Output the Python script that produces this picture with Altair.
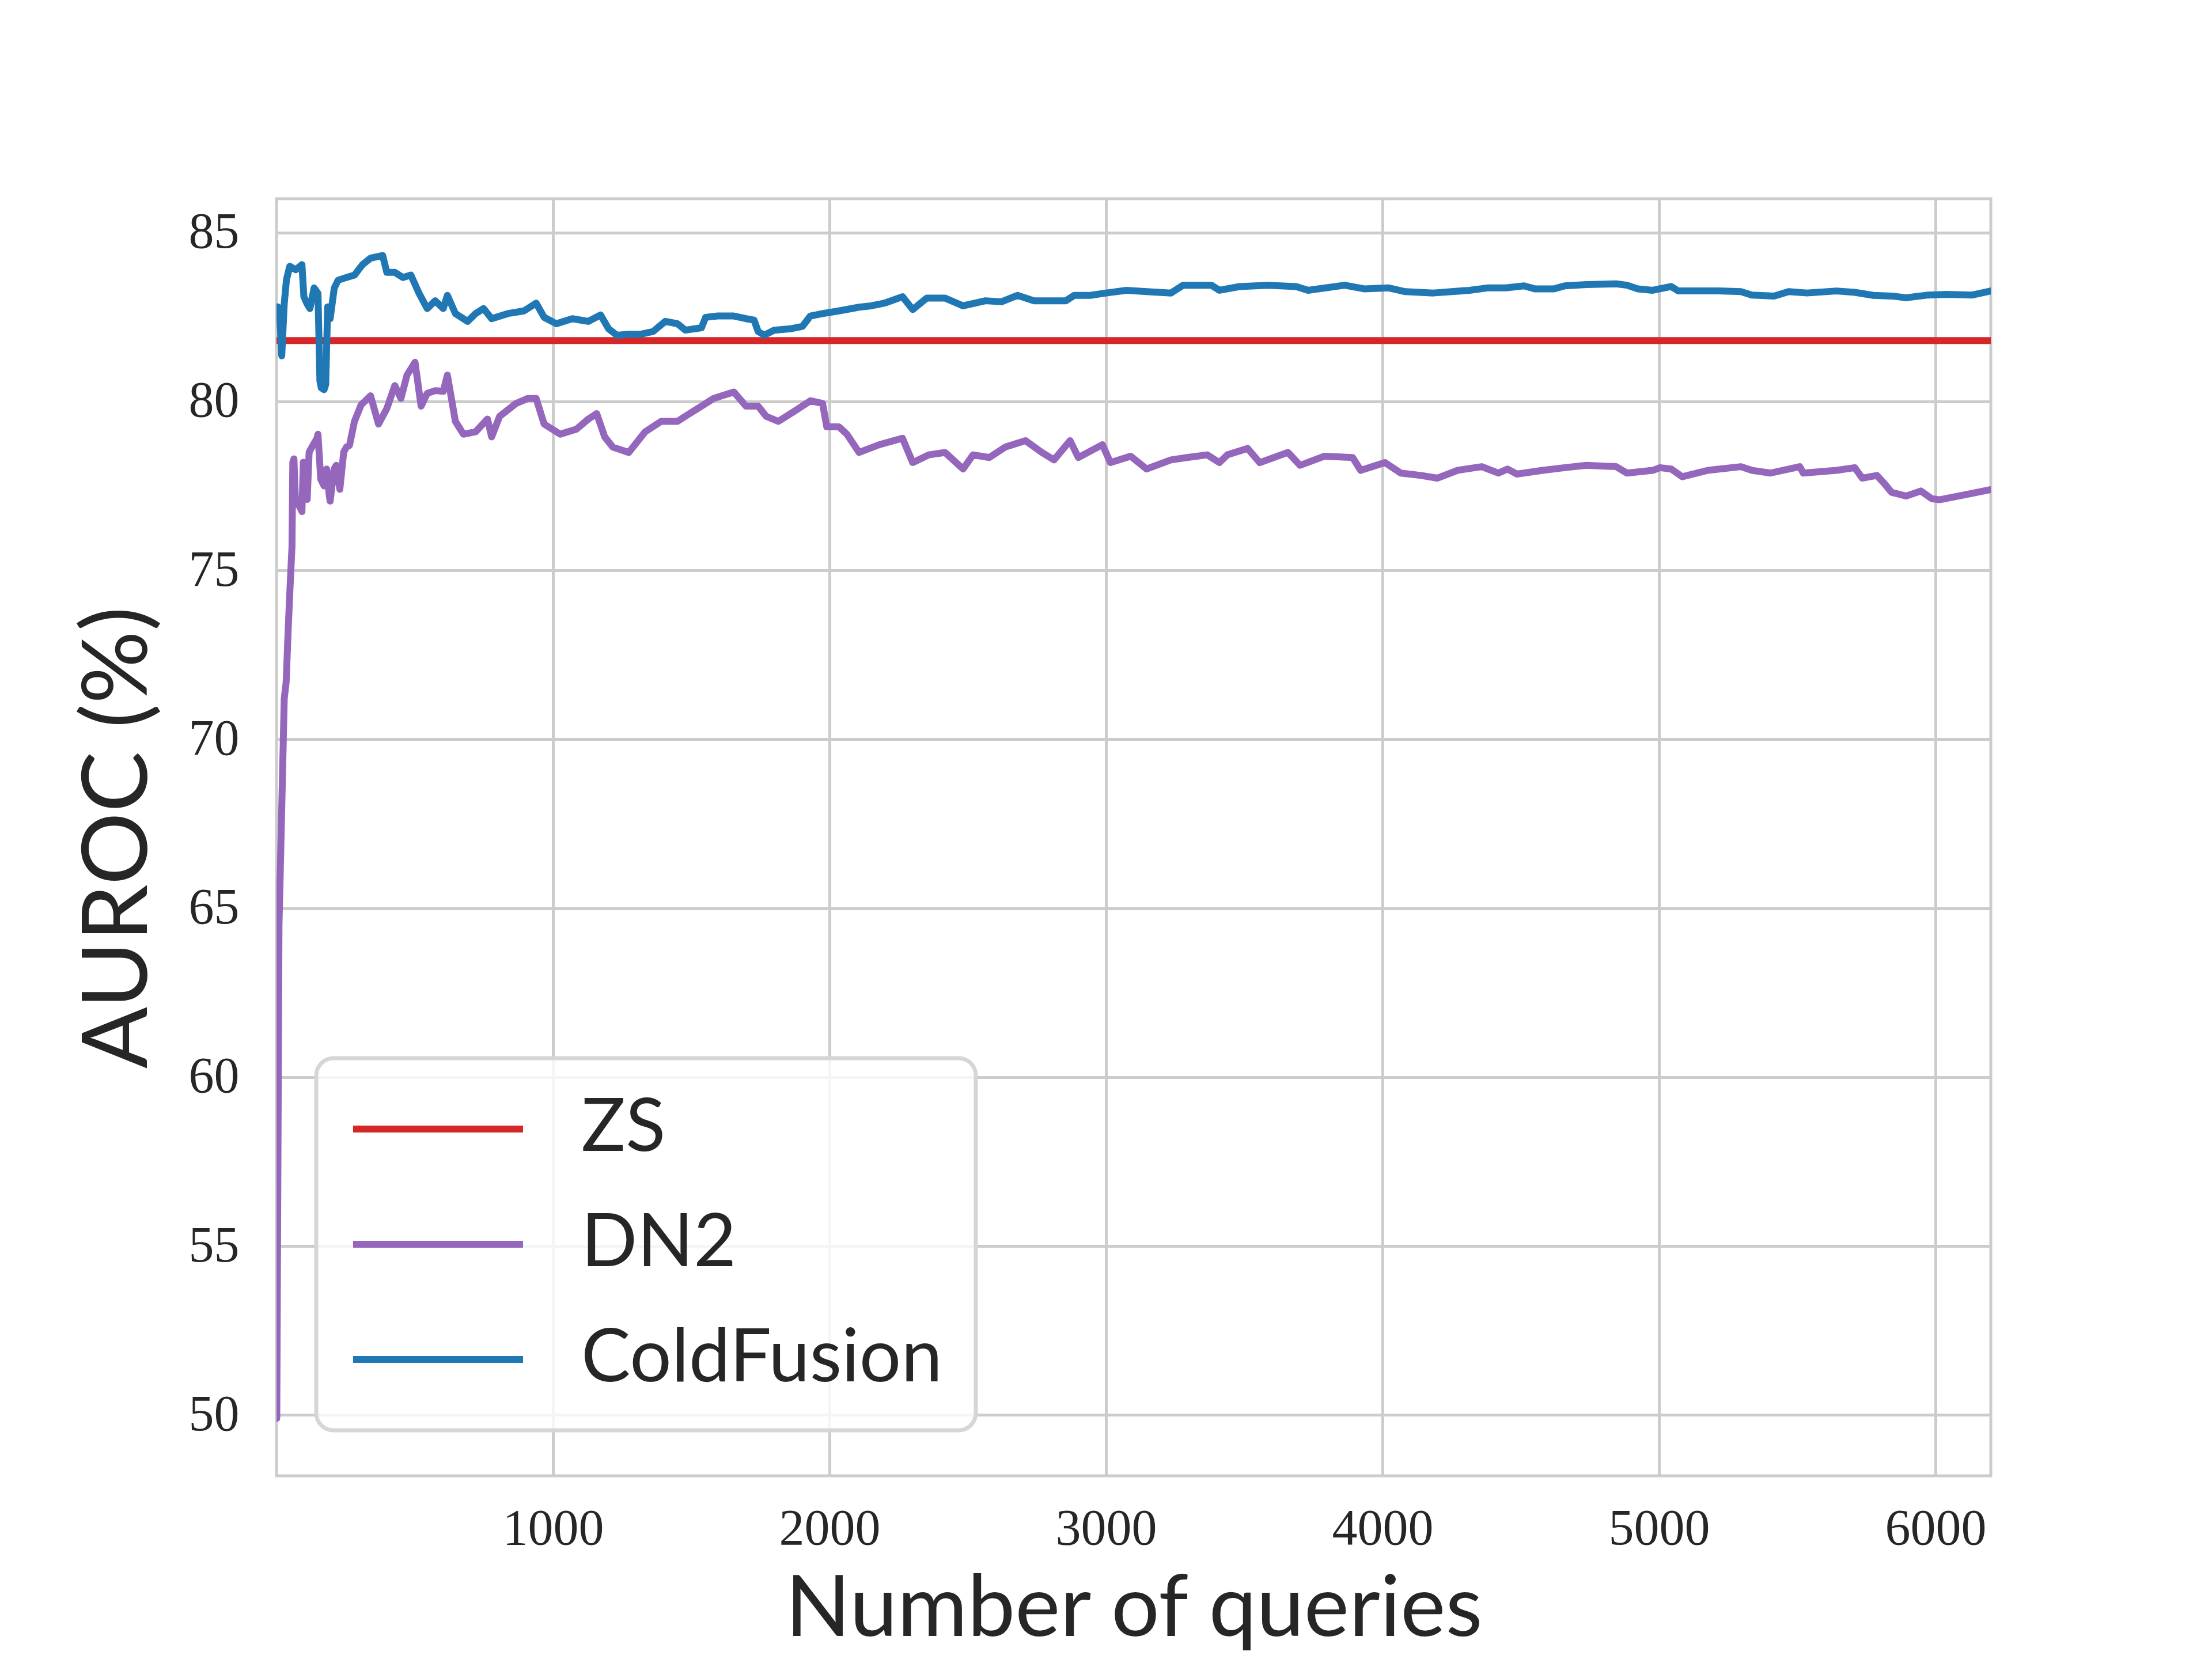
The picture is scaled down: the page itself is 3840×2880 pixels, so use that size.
import altair as alt
import pandas as pd

# ---- data ----
methods = ["ZS", "DN2", "ColdFusion"]
colors = ["#d62728", "#9467bd", "#1f77b4"]

x_ticks = [1000, 2000, 3000, 4000, 5000, 6000]
y_ticks = [50, 55, 60, 65, 70, 75, 80, 85]

zs_x = [1, 6200]
zs_y = [81.8, 81.8]

dn2_x = [1, 9, 14, 21, 28, 35, 42, 49, 56, 59, 63, 69, 83, 92, 97, 107, 111, 118, 128, 146,
         150, 160, 172, 181, 191, 194, 208, 216, 229, 243, 253, 264, 282, 306, 311, 319, 340,
         369, 399, 428, 450, 472, 501, 523, 545, 574, 603, 618, 647, 676, 720, 763, 778, 807,
         866, 909, 939, 968, 1026, 1085, 1128, 1158, 1187, 1216, 1274, 1333, 1391, 1450, 1494,
         1537, 1581, 1654, 1698, 1742, 1771, 1815, 1873, 1931, 1975, 1990, 2034, 2063, 2107,
         2180, 2264, 2301, 2359, 2418, 2483, 2519, 2578, 2636, 2709, 2768, 2812, 2870, 2900,
         2987, 3016, 3089, 3147, 3235, 3293, 3366, 3410, 3439, 3512, 3556, 3658, 3702, 3790,
         3892, 3921, 4009, 4066, 4139, 4198, 4271, 4359, 4419, 4452, 4486, 4579, 4659, 4738,
         4845, 4884, 4977, 5004, 5044, 5084, 5177, 5296, 5336, 5403, 5509, 5522, 5642, 5708,
         5735, 5788, 5814, 5841, 5894, 5947, 5987, 6014, 6107, 6200]
dn2_y = [49.9, 64.5, 66.2, 68.7, 71.2, 71.7, 73.2, 74.5, 75.7, 78.2, 78.3, 77.0, 76.9, 76.74,
         78.2, 77.88, 77.1, 78.5, 78.65, 78.9, 79.03, 77.7, 77.5, 78.0, 77.2, 77.05, 78.0, 78.11,
         77.4, 78.5, 78.65, 78.7, 79.41, 79.9, 79.94, 80.0, 80.17, 79.33, 79.79, 80.47, 80.09,
         80.78, 81.16, 79.86, 80.24, 80.32, 80.3, 80.78, 79.41, 79.03, 79.1, 79.48, 78.95, 79.56,
         79.94, 80.09, 80.09, 79.33, 79.03, 79.18, 79.48, 79.64, 78.95, 78.65, 78.49, 79.10,
         79.41, 79.41, 79.64, 79.86, 80.09, 80.28, 79.86, 79.86, 79.56, 79.41, 79.71, 80.02,
         79.94, 79.25, 79.25, 79.03, 78.49, 78.72, 78.91, 78.19, 78.42, 78.49, 78.00, 78.42,
         78.34, 78.65, 78.84, 78.49, 78.27, 78.84, 78.34, 78.72, 78.19, 78.38, 78.00, 78.27,
         78.34, 78.42, 78.19, 78.42, 78.61, 78.19, 78.49, 78.11, 78.38, 78.34, 77.96, 78.19,
         77.88, 77.81, 77.73, 77.96, 78.07, 77.88, 78.0, 77.85, 77.96, 78.04, 78.11, 78.07,
         77.88, 77.96, 78.04, 78.0, 77.77, 77.96, 78.07, 77.96, 77.88, 78.07, 77.88, 77.96,
         78.04, 77.73, 77.81, 77.58, 77.31, 77.20, 77.35, 77.12, 77.09, 77.24, 77.39]

cf_x = [5, 12, 19, 28, 36, 48, 70, 92, 99, 110, 121, 136, 150, 157, 162, 172, 178, 185, 194,
        209, 223, 253, 282, 311, 340, 384, 399, 428, 457, 486, 515, 545, 574, 603, 618, 647,
        691, 720, 749, 778, 836, 895, 939, 968, 1012, 1070, 1128, 1172, 1201, 1231, 1274, 1318,
        1362, 1406, 1450, 1479, 1537, 1552, 1596, 1654, 1698, 1727, 1742, 1764, 1800, 1858,
        1902, 1931, 1975, 2034, 2107, 2150, 2199, 2264, 2301, 2352, 2418, 2483, 2564, 2622,
        2680, 2739, 2855, 2885, 2943, 3001, 3074, 3147, 3235, 3279, 3381, 3410, 3483, 3585,
        3688, 3731, 3863, 3936, 4023, 4082, 4184, 4315, 4379, 4446, 4512, 4552, 4619, 4659,
        4738, 4845, 4884, 4924, 4977, 5044, 5070, 5137, 5217, 5296, 5336, 5416, 5469, 5535,
        5642, 5708, 5775, 5841, 5894, 5974, 6040, 6133, 6200]
cf_y = [82.8, 82.5, 81.35, 82.9, 83.6, 84.0, 83.9, 84.05, 83.1, 82.9, 82.75, 83.36, 83.2, 80.6,
        80.4, 80.35, 80.5, 82.8, 82.45, 83.36, 83.59, 83.67, 83.74, 84.05, 84.24, 84.32, 83.82,
        83.82, 83.67, 83.74, 83.21, 82.75, 82.98, 82.75, 83.14, 82.6, 82.37, 82.6, 82.75, 82.45,
        82.6, 82.68, 82.91, 82.49, 82.3, 82.45, 82.37, 82.56, 82.15, 81.96, 81.99, 81.99, 82.07,
        82.37, 82.3, 82.11, 82.18, 82.49, 82.53, 82.53, 82.45, 82.41, 82.07, 81.96, 82.11, 82.15,
        82.22, 82.53, 82.6, 82.68, 82.79, 82.83, 82.91, 83.10, 82.72, 83.06, 83.06, 82.83, 82.98,
        82.95, 83.14, 82.98, 82.98, 83.14, 83.14, 83.21, 83.29, 83.25, 83.21, 83.44, 83.44,
        83.29, 83.40, 83.44, 83.40, 83.29, 83.44, 83.33, 83.36, 83.25, 83.21, 83.29, 83.36,
        83.36, 83.42, 83.33, 83.33, 83.42, 83.46, 83.48, 83.44, 83.33, 83.29, 83.40, 83.27,
        83.27, 83.27, 83.25, 83.15, 83.12, 83.25, 83.21, 83.27, 83.23, 83.14, 83.12, 83.07,
        83.15, 83.17, 83.15, 83.27]

# ---- table ----
rows = []
for name, xs, ys in [("ZS", zs_x, zs_y), ("DN2", dn2_x, dn2_y), ("ColdFusion", cf_x, cf_y)]:
    for xv, yv in zip(xs, ys):
        rows.append({"x": xv, "y": yv, "method": name})
df = pd.DataFrame(rows)

TEXT = "#262626"
SANS = "Lato"
SERIF = "Liberation Serif"

color = alt.Color(
    "method:N",
    scale=alt.Scale(domain=methods, range=colors),
    legend=alt.Legend(
        title=None,
        orient="none",
        legendX=69,
        legendY=1492,
        symbolType="stroke",
        symbolSize=87025,
        symbolStrokeWidth=12,
        labelFontSize=128,
        labelFont=SANS,
        labelColor=TEXT,
        labelOffset=95,
        labelLimit=3000,
        clipHeight=130,
        rowPadding=70,
        padding=58,
        fillColor="rgba(255,255,255,0.8)",
        strokeColor="#d6d6d6",
        cornerRadius=30,
    ),
)

x_enc = alt.X(
    "x:Q",
    scale=alt.Scale(domain=[0, 6200], nice=False, zero=False),
    axis=alt.Axis(values=x_ticks, title="Number of queries", labelPadding=48, titlePadding=24,
                  titleFontSize=148, format="d"),
)
y_enc = alt.Y(
    "y:Q",
    scale=alt.Scale(domain=[48.2, 86.0], nice=False, zero=False),
    axis=alt.Axis(values=y_ticks, title="AUROC (%)", labelPadding=65, titlePadding=40),
)

layers = []
for m in methods:
    layers.append(
        alt.Chart(df)
        .transform_filter(alt.datum.method == m)
        .mark_line(strokeWidth=12, clip=True, strokeJoin="round", strokeCap="round")
        .encode(x=x_enc, y=y_enc, color=color, order=alt.Order("x:Q"))
    )

chart = (
    alt.layer(*layers)
    .properties(
        width=2976,
        height=2217,
        autosize=alt.AutoSizeParams(type="none"),
        padding={"left": 472, "top": 337, "right": 376, "bottom": 310},
        background="white",
    )
    .configure_view(stroke="#cccccc", strokeWidth=5)
    .configure_axis(
        domain=False,
        ticks=False,
        tickSize=0,
        grid=True,
        gridColor="#cccccc",
        gridWidth=5,
        labelFont=SERIF,
        labelFontSize=88,
        labelColor=TEXT,
        titleFont=SANS,
        titleFontSize=158,
        titleFontWeight="normal",
        titleColor=TEXT,
    )
    .configure_legend(strokeWidth=7)
)

chart.save("out.html", embed_options={"renderer": "svg", "actions": False})
